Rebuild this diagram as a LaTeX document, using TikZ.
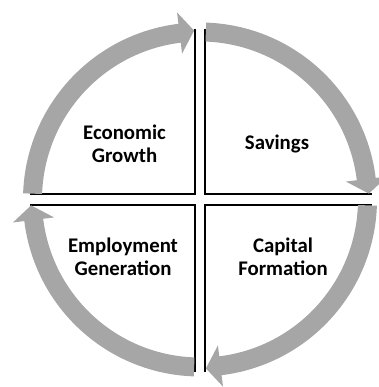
\documentclass[tikz,border=0pt]{standalone}
\usepackage{fontspec}
\setmainfont{Carlito}
\definecolor{cyclegray}{RGB}{166,166,166}
\tikzset{
  quadline/.style={draw=black, line width=1.8pt, line cap=butt, line join=miter},
  cycfill/.style={fill=cyclegray},
  label/.style={font=\bfseries\fontsize{20.8}{23.5}\selectfont, align=center, text=black, inner sep=0pt}
}
% curved arrow around the centre: start angle, head base angle, tip angle
\newcommand\cyclearrow[3]{%
  \fill[cycfill] (#1:177) arc[start angle=#1, end angle=#2, radius=177]
    -- (#2:188.5) -- (#3:169) -- (#2:147) -- (#2:158)
    arc[start angle=#2, end angle=#1, radius=158] -- cycle;%
}
\begin{document}
\begin{tikzpicture}[x=1pt,y=1pt]
  \useasboundingbox (0,0) rectangle (378,387);

  % inner edges of the four quadrants
  \draw[quadline] (30,193) -- (195,193) -- (195,358);
  \draw[quadline] (205,358) -- (205,193) -- (372,193);
  \draw[quadline] (30,182) -- (195,182) -- (195,15);
  \draw[quadline] (205,15) -- (205,182) -- (372,182);

  % four clockwise arrows forming the cycle
  \begin{scope}[shift={(200,187.5)}]
    \cyclearrow{178}{97}{92}
    \cyclearrow{88}{7}{2}
    \cyclearrow{-2}{-83}{-88}
    \cyclearrow{268}{187}{182}
  \end{scope}

  % quadrant labels
  \node[label] (growth) at (124.5,243) {Economic\\Growth};
  \node[label] (savings) at (277,243) {Savings};
  \node[label] (employment) at (123,130) {Employment\\Generation};
  \node[label] (capital) at (283,130) {Capital\\Formation};
\end{tikzpicture}
\end{document}
